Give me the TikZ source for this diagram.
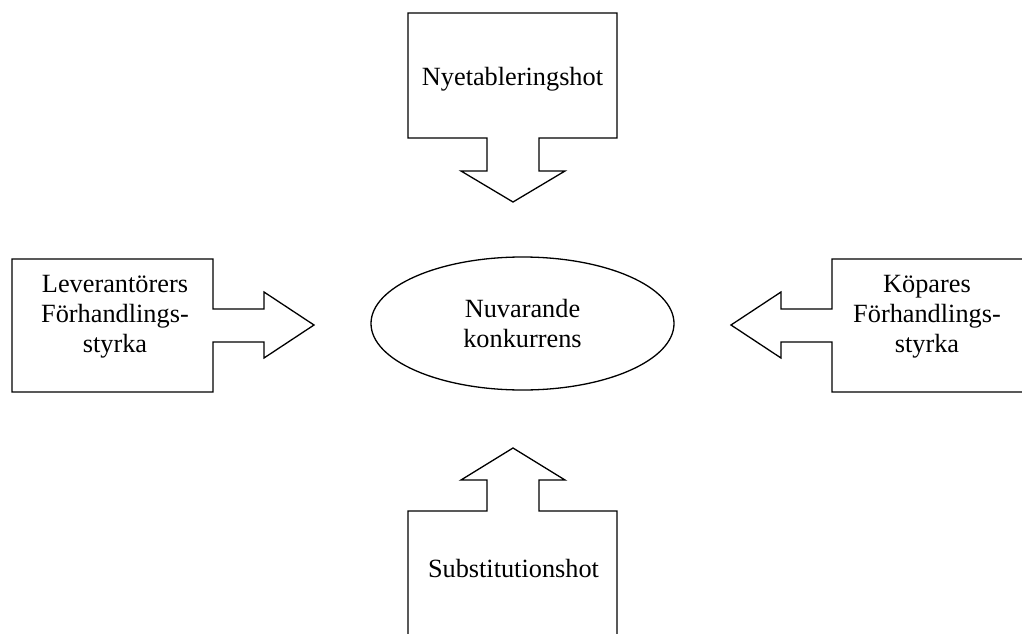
\documentclass[tikz,border=0pt]{standalone}
\usepackage{fontspec}
\setmainfont{Liberation Serif}
\usetikzlibrary{shapes.geometric}
\tikzset{
  outline/.style={draw=black, line width=1.3pt, line join=miter},
  lbl/.style={inner sep=0pt, align=center, font=\fontsize{26.3}{30}\selectfont},
}
\begin{document}
\begin{tikzpicture}[x=1pt, y=-1pt]
\useasboundingbox (0,0) rectangle (1022,634);
\clip (0,0) rectangle (1022,634);
\fill[white] (0,0) rectangle (1022,634);
% top callout
\draw[outline] (408,13) -- (617,13) -- (617,138) -- (539,138) -- (539,171) -- (565,171)
  -- (513,202) -- (461,171) -- (487,171) -- (487,138) -- (408,138) -- cycle;
\node[lbl, anchor=base] (top) at (512.5,85) {Nyetableringshot};
% left callout
\draw[outline] (12,259) -- (213,259) -- (213,309) -- (264,309) -- (264,292) -- (314,325)
  -- (264,358) -- (264,342) -- (213,342) -- (213,392) -- (12,392) -- cycle;
\node[lbl] (left) at (115,317) {Leverantörers\\Förhandlings-\\styrka};
% right callout
\draw[outline] (1040,259) -- (832,259) -- (832,309) -- (781,309) -- (781,292) -- (731,325)
  -- (781,358) -- (781,342) -- (832,342) -- (832,392) -- (1040,392);
\node[lbl] (right) at (927,317) {Köpares\\Förhandlings-\\styrka};
% bottom callout
\draw[outline] (408,650) -- (408,511) -- (487,511) -- (487,480) -- (461,480) -- (513,448)
  -- (565,480) -- (539,480) -- (539,511) -- (617,511) -- (617,650);
\node[lbl, anchor=base] (bottom) at (513.5,577) {Substitutionshot};
% centre ellipse
\node[ellipse, draw=black, line width=1.3pt, minimum width=303pt, minimum height=133pt,
  inner sep=0pt] (centre) at (522.5,323.5) {};
\node[lbl] (centretext) at (centre.center) {Nuvarande\\konkurrens};
\end{tikzpicture}
\end{document}
